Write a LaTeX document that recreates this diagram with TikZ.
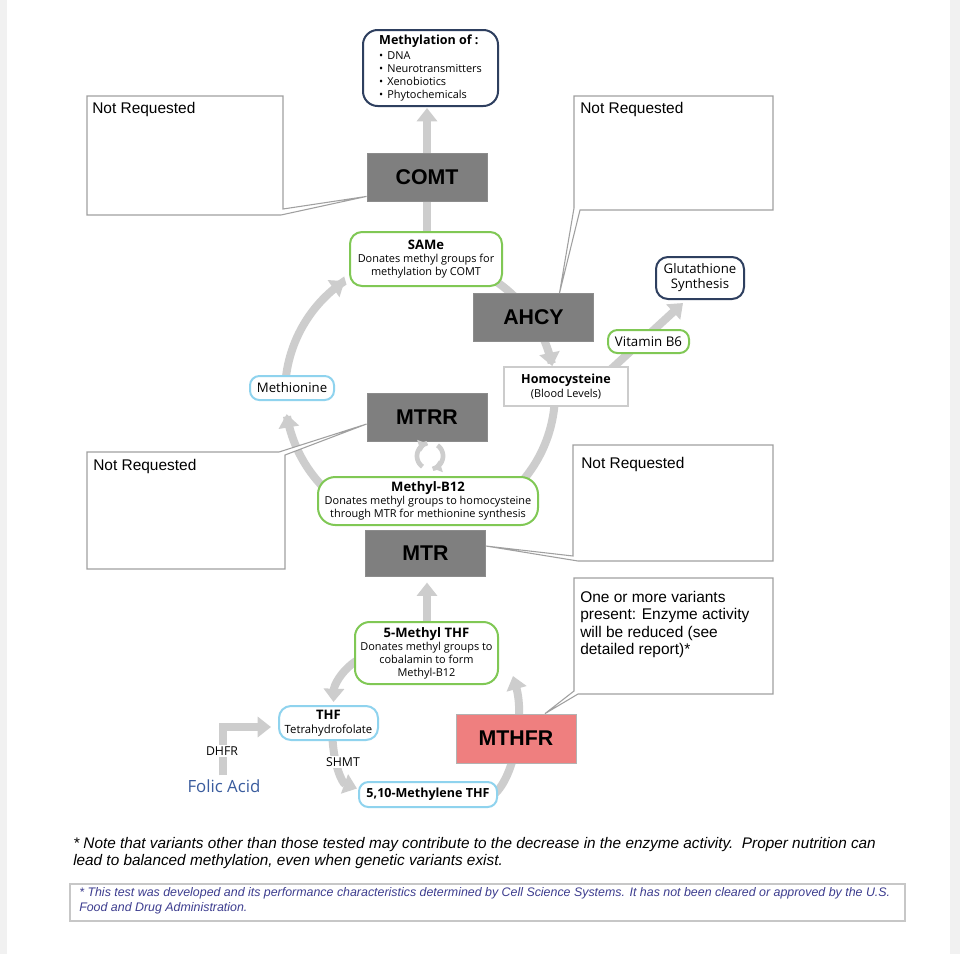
\documentclass[tikz,border=0pt]{standalone}
\usepackage{fontspec}
\setmainfont{Open Sans}
\newfontfamily\arial{Liberation Sans}
\usetikzlibrary{arrows.meta,calc}
\pgfdeclarelayer{bg}
\pgfsetlayers{bg,main}
\definecolor{flowgray}{HTML}{CDCDCD}
\definecolor{enzgray}{HTML}{7F7F7F}
\definecolor{navy}{HTML}{2E3F5F}
\definecolor{leaf}{HTML}{80C855}
\definecolor{sky}{HTML}{8FD3EE}
\definecolor{salmon}{HTML}{EF7F7F}
\definecolor{callgray}{HTML}{A0A0A0}
\definecolor{discl}{HTML}{3D3D8F}
\definecolor{folic}{HTML}{3A5C9E}
\definecolor{edgegray}{HTML}{F1F1F1}
\begin{document}
\begin{tikzpicture}[x=0.75pt,y=-0.75pt,
  enz/.style={rectangle, fill=enzgray, draw=black!45, line width=0.6pt,
    minimum width=90pt, minimum height=36pt, inner sep=0pt,
    font=\arial\bfseries\fontsize{16}{18}\selectfont},
  rbox/.style={rectangle, rounded corners=9pt, fill=white, line width=1.5pt,
    align=center, inner sep=0pt, font=\fontsize{8.2}{9.75}\selectfont},
  greenbox/.style={rbox, draw=leaf},
  bluebox/.style={rbox, draw=sky},
  navybox/.style={rbox, draw=navy},
  flow/.style={draw=flowgray, line width=6pt},
  flowarrow/.style={flow, -{Triangle[width=15pt,length=10pt]}},
  callout/.style={draw=callgray, line width=0.8pt, fill=white, line join=miter},
  ctext/.style={font=\arial\fontsize{11.6}{13}\selectfont, anchor=north west, align=left, inner sep=0pt},
  smalllabel/.style={font=\fontsize{9.2}{10}\selectfont, fill=white, inner sep=1pt},
  ttl/.style={}
]
\useasboundingbox (0,0) rectangle (960,954);
\begin{pgfonlayer}{bg}
\fill[white] (0,0) rectangle (960,954);
\fill[edgegray] (0,0) rectangle (7,954);
\fill[edgegray] (950,0) rectangle (960,954);
\end{pgfonlayer}

% ---------- enzymes ----------
\node[enz] (comt) at (427,177) {COMT};
\node[enz] (ahcy) at (533.5,317.5) {AHCY};
\node[enz] (mtrr) at (427,417) {MTRR};
\node[enz, minimum height=34pt] (mtr) at (425.5,553.5) {MTR};
\node[enz, fill=salmon, draw=black!30, minimum height=36.75pt] (mthfr) at (516,738.5) {MTHFR};

% ---------- callouts ----------
\draw[callout] (87,96) -- (283,96) -- (283,209) -- ($(comt.south west)+(0,-5)$) -- (281,215) -- (87,215) -- cycle;
\node[ctext] (nr1) at (92,102) {Not Requested};

\draw[callout] (574,96) -- (773,96) -- (773,210) -- (580,210) -- ($(ahcy.north)+(26,0)$) -- (574,208) -- cycle;
\node[ctext] (nr2) at (580,102) {Not Requested};

\draw[callout] (87,452) -- (279,452) -- ($(mtrr.west)+(0,7)$) -- (285,455) -- (285,569) -- (87,569) -- cycle;
\node[ctext] (nr3) at (93,459) {Not Requested};

\draw[callout] (573,445) -- (773,445) -- (773,561) -- (578,561) -- ($(mtr.east)+(0,-7.5)$) -- (573,556) -- cycle;
\node[ctext] (nr4) at (581,457) {Not Requested};

\draw[callout] (574,578) -- (773,578) -- (773,694) -- (578,694) -- ($(mthfr.north)+(29,0)$) -- (574,691) -- cycle;
\node[ctext] (nr5) at (580,591) {One or more variants\\present: Enzyme activity\\will be reduced (see\\detailed report)*};

% ---------- metabolite nodes ----------
\node[navybox, rounded corners=11pt, minimum width=101.25pt, minimum height=57pt, align=left,
  font=\fontsize{8.2}{9.75}\selectfont] (meth) at (430.5,68)
  {{\bfseries\fontsize{9.4}{11}\selectfont Methylation of :}\\[1pt]
   •\hspace{3pt}DNA\\ •\hspace{3pt}Neurotransmitters\\ •\hspace{3pt}Xenobiotics\\ •\hspace{3pt}Phytochemicals};
\node[greenbox, minimum width=114pt, minimum height=40.5pt] (same) at (426,259)
  {{\bfseries\fontsize{9.8}{11}\selectfont SAMe}\\ Donates methyl groups for\\ methylation by COMT};
\node[navybox, minimum width=66pt, minimum height=31.5pt, font=\fontsize{9.9}{11.25}\selectfont] (glut) at (700,278)
  {Glutathione\\ Synthesis};
\node[greenbox, rounded corners=7pt, minimum width=60.75pt, minimum height=17.25pt, font=\fontsize{10}{11}\selectfont] (vitb6) at (648.5,341.5) {Vitamin B6};
\node[rectangle, draw=black!20, line width=1pt, fill=white, minimum width=93pt, minimum height=29.25pt,
  align=center, inner sep=0pt, font=\fontsize{8.2}{10.5}\selectfont] (homo) at (566,386.5)
  {{\bfseries\fontsize{9.4}{11}\selectfont Homocysteine}\\ (Blood Levels)};
\node[bluebox, rounded corners=7pt, minimum width=63pt, minimum height=18pt, font=\fontsize{9.9}{10}\selectfont] (methio) at (292,388) {Methionine};
\node[greenbox, rounded corners=13pt, minimum width=165pt, minimum height=36pt] (b12) at (428,501)
  {{\bfseries\fontsize{9.8}{11}\selectfont Methyl-B12}\\ Donates methyl groups to homocysteine\\ through MTR for methionine synthesis};
\node[greenbox, rounded corners=11pt, minimum width=107.25pt, minimum height=46.5pt] (m5thf) at (426.5,653)
  {{\bfseries\fontsize{9.8}{11}\selectfont 5-Methyl THF}\\ Donates methyl groups to\\ cobalamin to form\\ Methyl-B12};
\node[bluebox, minimum width=74.25pt, minimum height=25.5pt, font=\fontsize{8.5}{10.5}\selectfont] (thf) at (328.5,723)
  {{\bfseries\fontsize{9.8}{11}\selectfont THF}\\ Tetrahydrofolate};
\node[bluebox, rounded corners=7pt, minimum width=103.5pt, minimum height=18.75pt, font=\bfseries\fontsize{9.4}{10}\selectfont] (m510) at (428,794.5) {5,10-Methylene THF};

\node[smalllabel] (dhfr) at (222,751) {DHFR};
\node[smalllabel] (shmt) at (343,762) {SHMT};
\node[font=\fontsize{12.6}{14}\selectfont, text=folic, inner sep=0pt] (folic) at (224,786) {Folic Acid};

% ---------- flows (behind) ----------
\begin{pgfonlayer}{bg}
\draw[flowarrow] (comt.north) -- (427,108);
\draw[flow] (427,233) -- (427,200);
\draw[flowarrow] plot[smooth, domain=136:171, samples=30] ({420+135*cos(\x)},{393+135*sin(\x)});
\draw[flowarrow] plot[smooth, domain=185:236, samples=30] ({420+135*cos(\x)},{393+135*sin(\x)});
\draw[flowarrow] plot[smooth, domain=300:348.5, samples=30] ({420+135*cos(\x)},{393+135*sin(\x)});
\draw[flow] plot[smooth, domain=5:42, samples=30] ({420+135*cos(\x)},{393+135*sin(\x)});
\draw[flowarrow] (608,372) -- ($(glut.south)+(-17,3)$);
\draw[flowarrow] ($(m5thf.north)+(0.5,2)$) -- ($(mtr.south)+(1.5,6)$);
\draw[flowarrow] ($(m5thf.west)+(2,8)$) .. controls (340,672) and (334,686) .. ($(thf.north)+(5,-3)$);
\draw[flowarrow] ($(thf.south)+(4,-2)$) .. controls (334,765) and (342,783) .. ($(m510.west)+(-1,-6)$);
\draw[flowarrow] ($(m510.east)+(-4,0)$) .. controls (516,775) and (524,715) .. ($(m5thf.south east)+(14,-9)$);
\draw[flowarrow] ($(folic.north)+(-1,-4)$) |- ($(thf.west)+(-7,4)$);
\end{pgfonlayer}

% recycle icon between MTRR and Methyl-B12
\coordinate (cyc) at (430,456);
\draw[draw=flowgray, line width=3.5pt, -{Triangle[width=9pt,length=6pt]}]
  plot[smooth, domain=125:255, samples=20] ({430+13*cos(\x)},{456+13*sin(\x)});
\draw[draw=flowgray, line width=3.5pt, -{Triangle[width=9pt,length=6pt]}]
  plot[smooth, domain=305:435, samples=20] ({430+13*cos(\x)},{456+13*sin(\x)});

% ---------- notes ----------
\node[anchor=north west, align=left, inner sep=0pt, font=\arial\itshape\fontsize{11.5}{12.75}\selectfont] (note) at (73,837)
  {* Note that variants other than those tested may contribute to the decrease in the enzyme activity.\ \ Proper nutrition can\\
   lead to balanced methylation, even when genetic variants exist.};
\node[rectangle, draw=black!22, line width=1pt, minimum width=626.25pt, minimum height=27.75pt, inner sep=0pt] (disbox) at (487.5,902.5) {};
\node[anchor=north west, align=left, inner sep=0pt, text=discl, font=\arial\itshape\fontsize{9.3}{11.25}\selectfont] (distext) at (79,887)
  {* This test was developed and its performance characteristics determined by Cell Science Systems. It has not been cleared or approved by the U.S.\\
   Food and Drug Administration.};
\end{tikzpicture}
\end{document}
